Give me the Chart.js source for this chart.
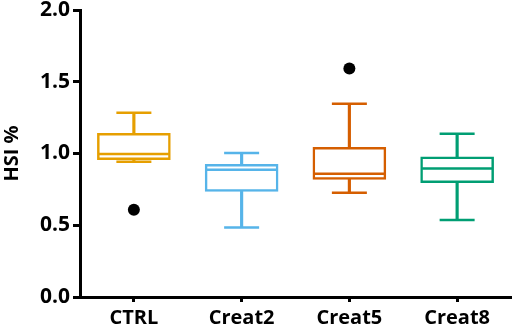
<!DOCTYPE html>
<html>
<head>
<meta charset="UTF-8">
<title>HSI %</title>
<script src="https://cdn.jsdelivr.net/npm/chart.js"></script>
<style>
  html, body { margin: 0; padding: 0; background: #fff; }
  #wrap { width: 517px; height: 335px; }
</style>
</head>
<body>
<div id="wrap"><canvas id="c"></canvas></div>
<script>
// groups and summary values
const groups = ['CTRL', 'Creat2', 'Creat5', 'Creat8'];
const colors = ['#E69F00', '#56B4E9', '#D55E00', '#009E73'];
const whiskerLow = [0.943, 0.485, 0.727, 0.537];
const q1 = [0.957, 0.736, 0.820, 0.797];
const median = [0.997, 0.887, 0.859, 0.896];
const q3 = [1.140, 0.924, 1.043, 0.976];
const whiskerHigh = [1.284, 1.003, 1.347, 1.138];
const outliers = [0.608, null, 1.593, null];
const yTicks = [0, 0.5, 1.0, 1.5, 2.0];

const FONT = 'Open Sans';

// median lines and whisker caps, placed with the chart's scales
const boxExtras = {
  id: 'boxExtras',
  afterDatasetsDraw(chart) {
    const ctx = chart.ctx;
    const x = chart.scales.x, y = chart.scales.y;
    ctx.save();
    ctx.lineWidth = 2.5;
    groups.forEach((g, i) => {
      const cx = x.getPixelForValue(i);
      ctx.strokeStyle = colors[i];
      ctx.beginPath();
      // median
      ctx.moveTo(cx - 35, y.getPixelForValue(median[i]));
      ctx.lineTo(cx + 35, y.getPixelForValue(median[i]));
      // caps
      ctx.moveTo(cx - 17.5, y.getPixelForValue(whiskerHigh[i]));
      ctx.lineTo(cx + 17.5, y.getPixelForValue(whiskerHigh[i]));
      ctx.moveTo(cx - 17.5, y.getPixelForValue(whiskerLow[i]));
      ctx.lineTo(cx + 17.5, y.getPixelForValue(whiskerLow[i]));
      ctx.stroke();
    });
    ctx.restore();
  }
};

new Chart(document.getElementById('c'), {
  type: 'bar',
  data: {
    labels: groups,
    datasets: [
      {
        label: 'upper whisker',
        data: groups.map((g, i) => [q3[i], whiskerHigh[i]]),
        backgroundColor: colors,
        borderWidth: 0,
        barThickness: 2.5,
        grouped: false
      },
      {
        label: 'lower whisker',
        data: groups.map((g, i) => [whiskerLow[i], q1[i]]),
        backgroundColor: colors,
        borderWidth: 0,
        barThickness: 2.5,
        grouped: false
      },
      {
        label: 'box',
        data: groups.map((g, i) => [q1[i], q3[i]]),
        backgroundColor: 'rgba(255,255,255,1)',
        borderColor: colors,
        borderWidth: 2.5,
        borderSkipped: false,
        barThickness: 73,
        grouped: false
      },
      {
        type: 'line',
        label: 'outliers',
        data: outliers,
        showLine: false,
        pointRadius: 6,
        pointBackgroundColor: '#000',
        pointBorderWidth: 0
      }
    ]
  },
  options: {
    responsive: true,
    maintainAspectRatio: false,
    animation: false,
    layout: { padding: { top: 0, right: 4, left: 0, bottom: 0 } },
    plugins: {
      legend: { display: false },
      tooltip: { enabled: false }
    },
    scales: {
      x: {
        offset: true,
        grid: { display: true, drawOnChartArea: false, tickLength: 5, tickWidth: 3, tickColor: '#000', offset: false },
        border: { color: '#000', width: 3 },
        ticks: { color: '#000', font: { family: FONT, size: 20, weight: 'bold' }, padding: 4 },
        afterFit(scale) { scale.height = 38; }
      },
      y: {
        min: 0,
        max: 2,
        afterBuildTicks(scale) { scale.ticks = yTicks.map(v => ({ value: v })); },
        grid: { display: true, drawOnChartArea: false, tickLength: 7, tickWidth: 3, tickColor: '#000' },
        border: { color: '#000', width: 3 },
        ticks: {
          color: '#000',
          font: { family: FONT, size: 21, weight: 'bold' },
          padding: 3,
          callback: v => v.toFixed(1)
        },
        title: { display: true, text: 'HSI %', color: '#000', font: { family: FONT, size: 20, weight: 'bold' }, padding: { top: 0, bottom: 4 } },
        afterFit(scale) { scale.width = 80; scale.paddingTop = 10; }
      }
    }
  },
  plugins: [boxExtras]
});
</script>
</body>
</html>
